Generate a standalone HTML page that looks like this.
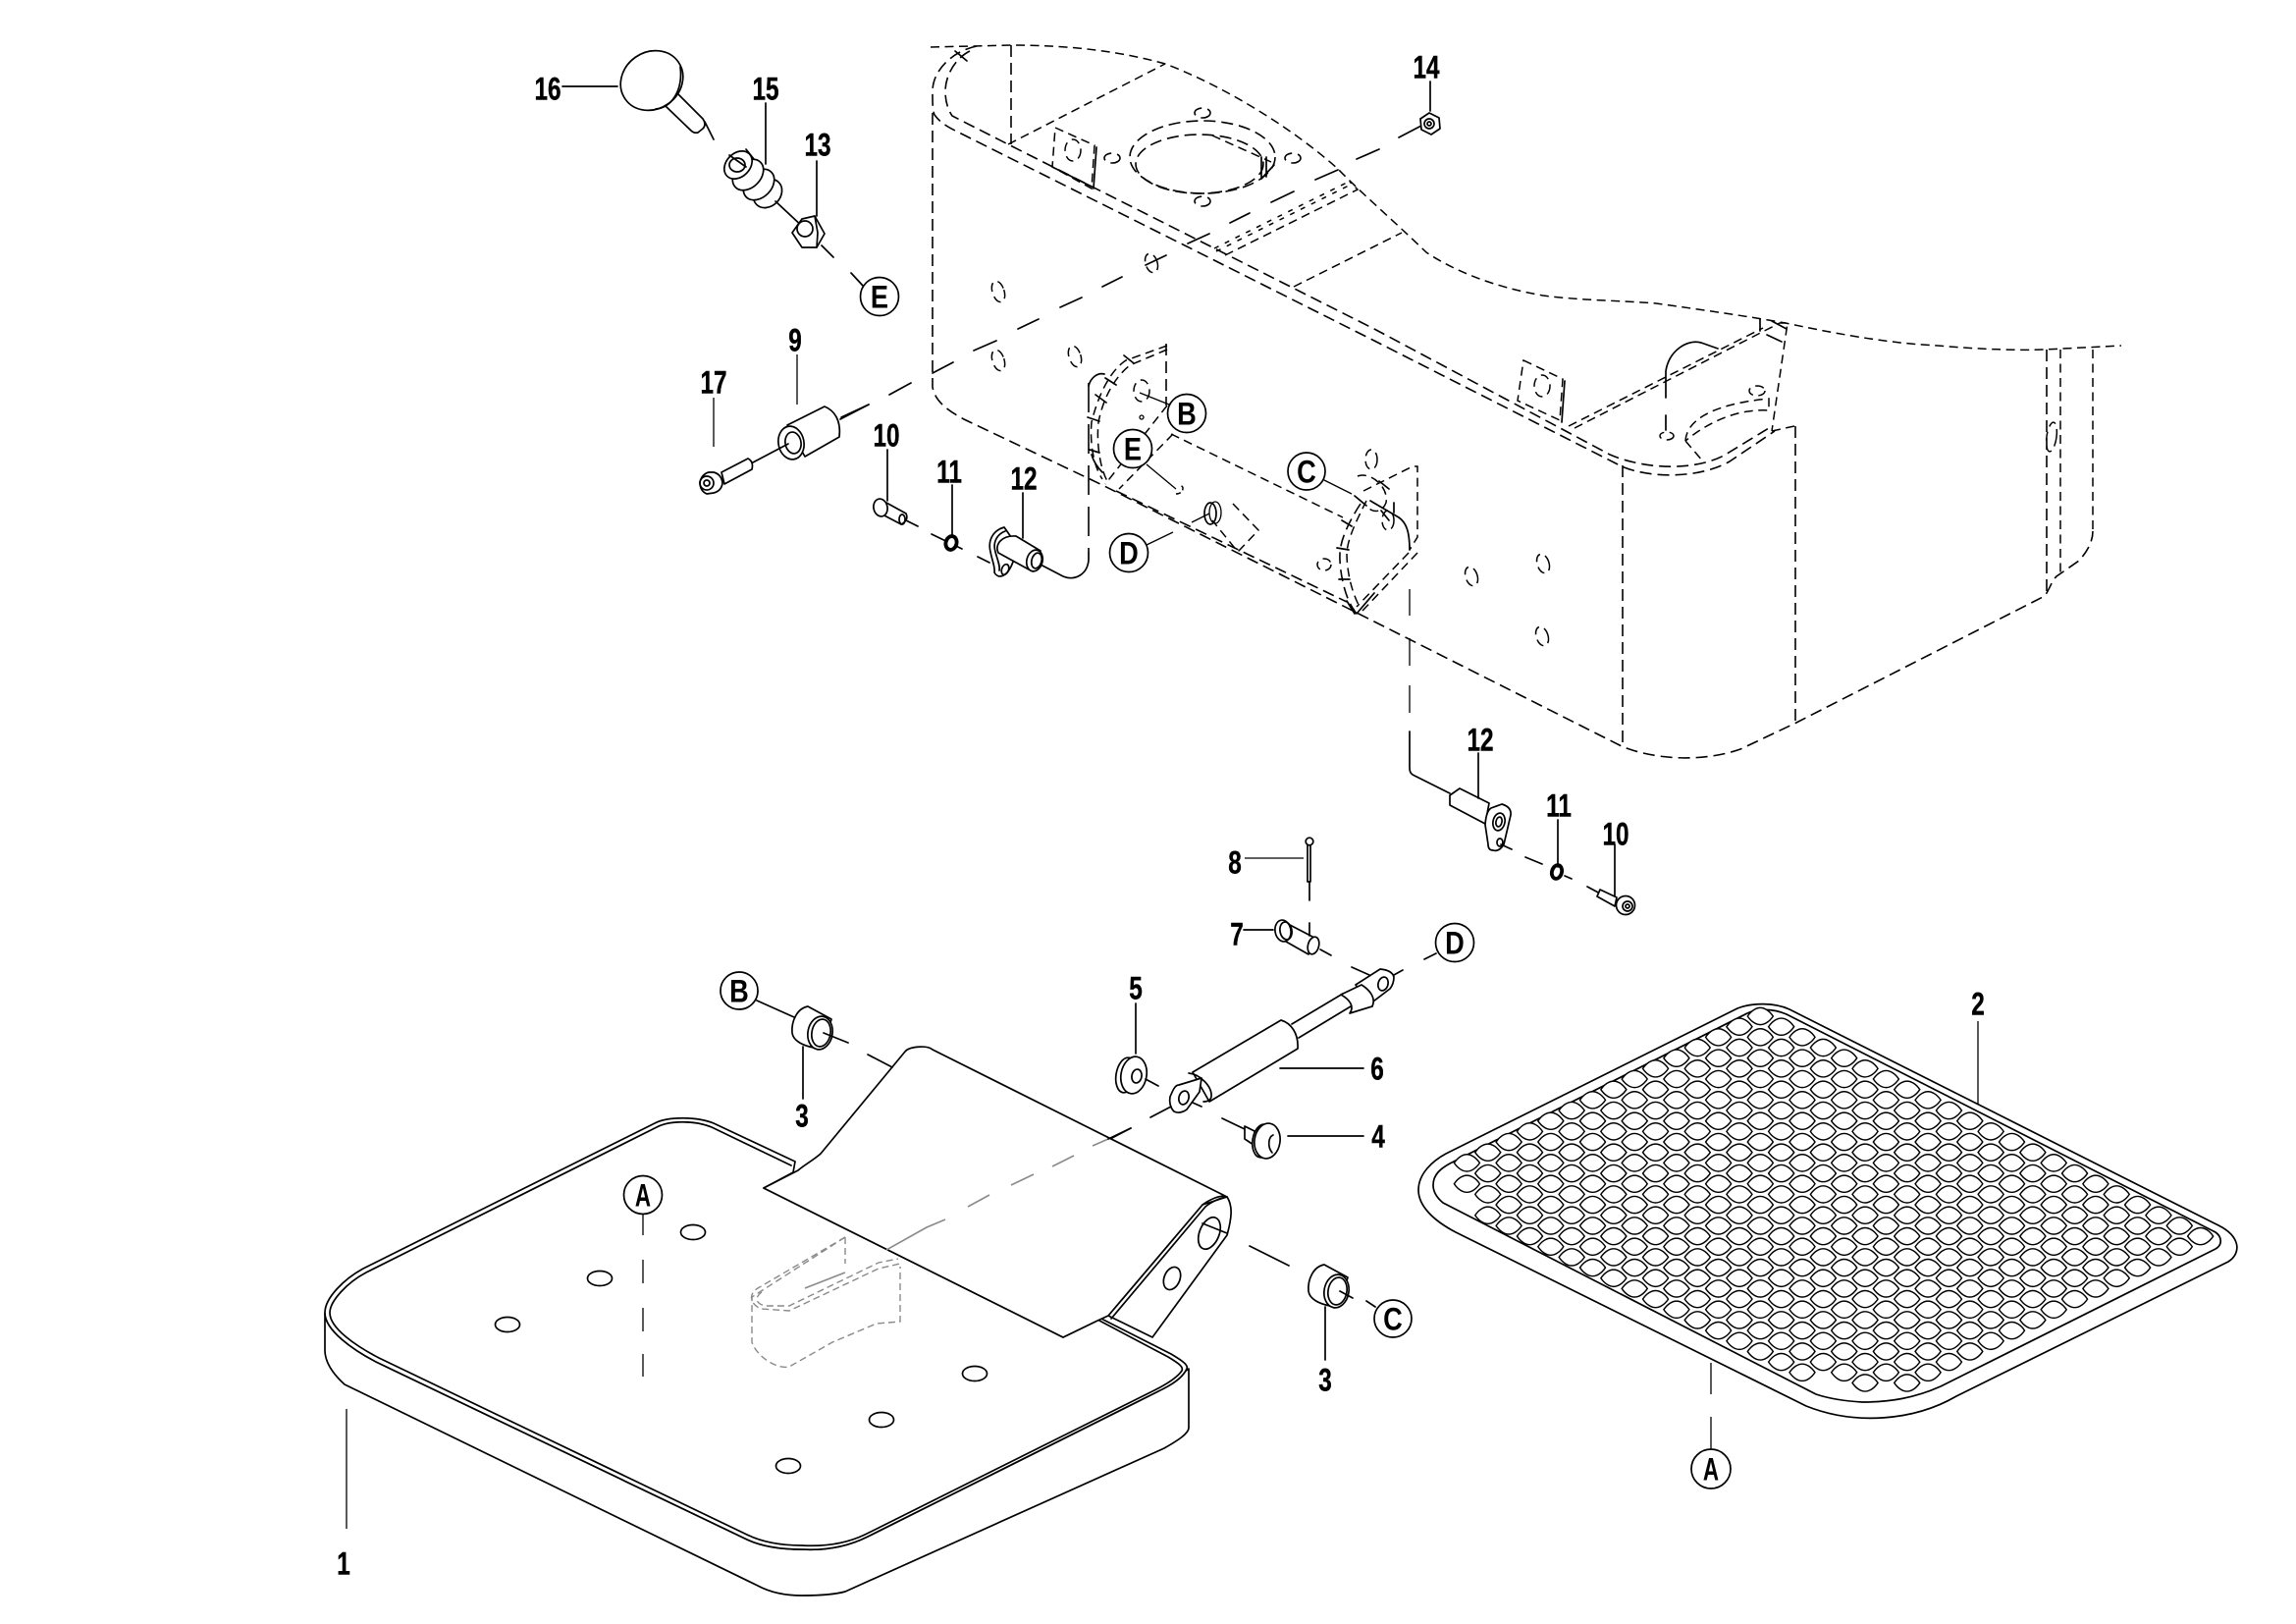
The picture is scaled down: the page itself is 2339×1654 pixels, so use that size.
<!DOCTYPE html>
<html lang="en">
<head>
<meta charset="utf-8">
<title>Parts diagram</title>
<style>
html,body{margin:0;padding:0;background:#fff}
svg{display:block}
.s{fill:none;stroke:#000;stroke-width:1.7;stroke-linecap:round;stroke-linejoin:round}
.w{fill:#fff;stroke:#000;stroke-width:1.7;stroke-linejoin:round}
.t{fill:none;stroke:#000;stroke-width:1.3}
.d{fill:none;stroke:#000;stroke-width:1.5;stroke-dasharray:9 5.5}
.dd{fill:none;stroke:#000;stroke-width:1.6;stroke-dasharray:12 6}
.k{fill:none;stroke:#000;stroke-width:1.5;stroke-dasharray:5 7}
.g{fill:none;stroke:#8a8a8a;stroke-width:1.4;stroke-dasharray:7 4}
.gl{fill:none;stroke:#8a8a8a;stroke-width:1.6}
.n{font:700 32px "Liberation Sans",sans-serif;text-anchor:middle;fill:#000;stroke:#000;stroke-width:.4}
.l{font:700 32px "Liberation Sans",sans-serif;text-anchor:middle;fill:#000}
</style>
</head>
<body>
<svg xmlns="http://www.w3.org/2000/svg" width="2339" height="1654" viewBox="0 0 2339 1654">
<defs>
<path id="h" d="M-13,0C-9,-6 -4,-8.6 0,-8.6C4,-8.6 9,-6 13,0C9,6 4,8.6 0,8.6C-4,8.6 -9,6 -13,0Z" fill="#fff" stroke="#000" stroke-width="1.45"/>
<g id="r2"><use href="#h"/><use href="#h" transform="translate(21.35,10.67)"/></g>
<g id="r4"><use href="#r2"/><use href="#r2" transform="translate(42.7,21.34)"/></g>
<g id="r8"><use href="#r4"/><use href="#r4" transform="translate(85.4,42.68)"/></g>
<g id="r16"><use href="#r8"/><use href="#r8" transform="translate(170.8,85.36)"/></g>
<g id="r20"><use href="#r16"/><use href="#r4" transform="translate(341.6,170.72)"/></g>
<g id="r22"><use href="#r20"/><use href="#r2" transform="translate(427,213.4)"/></g>
<g id="b3">
<path class="w" d="M823,1025 L847,1038 L838,1068 L829,1067 C818,1065 808,1060 807,1052 C806,1040 812,1027 823,1025 Z"/>
<ellipse class="w" cx="835.5" cy="1052" rx="12.5" ry="17" transform="rotate(10 835.5 1052)"/>
<ellipse class="s" cx="836.5" cy="1052" rx="9.5" ry="14" transform="rotate(10 836.5 1052)"/>
</g>
</defs>

<!-- TANK -->
<g>
<path class="d" d="M948,48 L1030,46 C1090,46 1140,52 1187,65 C1240,85 1310,125 1363,172 C1385,195 1420,225 1453,257 C1480,275 1520,292 1572,301 C1610,306 1650,306 1687,309 C1730,315 1780,322 1819,329 C1880,342 1930,350 1974,352 C2020,356 2060,357 2083,356 L2161,352"/>
<path class="dd" d="M950,115 V394 C952,408 965,418 982,427 L1123,494 L1380,623 L1652,760 C1680,772 1730,778 1773,763 L1828,737 L2083,607 C2088,600 2090,592 2095,587 L2118,571 C2126,562 2132,552 2132,541"/>
<path class="dd" d="M2085,356 V607 M1653,474 V760 M1829,434 V737"/>
<path class="d" d="M2099,356 V585 M2132,356 V541"/>
<path class="dd" d="M988,52 C972,60 963,78 963,93 C963,104 966,112 970,118 L1027,147 L1400,335 L1640,463 C1675,478 1725,480 1756,464 L1802,436"/>
<path class="dd" d="M995,47 C970,52 950,72 950,93 C950,105 950,112 952,117 C958,125 965,129 973,133 L1207,250 L1400,347 L1652,475 C1680,487 1730,488 1762,470 L1808,439"/>
<path class="s" d="M973,52 L985,62"/>
<path class="dd" d="M1030,46 V147"/>
<path class="d" d="M1027,147 L1187,65 M1318,292 L1428,237"/>
<path class="k" d="M1237,253 L1372,186 M1239,256 L1374,189"/>
<path class="d" d="M1248,260 L1383,193 L1375,185"/>
<ellipse class="dd" cx="1225" cy="160" rx="74" ry="37"/>
<ellipse class="dd" cx="1222" cy="167" rx="65" ry="30"/>
<path class="s" d="M1285,160 V182 L1298,168 M1290,160 V180"/>
<path class="d" d="M1235,138 L1295,165"/>
<ellipse class="dd" cx="1225" cy="115" rx="8" ry="5"/>
<ellipse class="dd" cx="1225" cy="205" rx="8" ry="5"/>
<ellipse class="dd" cx="1133" cy="161" rx="8" ry="5"/>
<ellipse class="dd" cx="1317" cy="161" rx="8" ry="5"/>
<path class="d" d="M1075,130 L1115,148 L1112,192 L1072,170 Z"/>
<path class="s" d="M1117,150 L1114,192 M1072,170 L1112,190"/>
<ellipse class="d" cx="1093" cy="153" rx="8" ry="11"/>
<ellipse class="d" cx="1017" cy="297" rx="6" ry="11" transform="rotate(-18 1017 297)"/>
<ellipse class="d" cx="1173" cy="268" rx="6" ry="10" transform="rotate(-18 1173 268)"/>
<ellipse class="d" cx="1017" cy="367" rx="6" ry="11" transform="rotate(-18 1017 367)"/>
<ellipse class="d" cx="1095" cy="363" rx="6" ry="11" transform="rotate(-18 1095 363)"/>
<ellipse class="d" cx="1349" cy="575" rx="7" ry="6"/>
<ellipse class="d" cx="1499" cy="587" rx="6" ry="10" transform="rotate(-18 1499 587)"/>
<ellipse class="d" cx="1572" cy="574" rx="6" ry="10" transform="rotate(-18 1572 574)"/>
<ellipse class="d" cx="1571" cy="648" rx="6" ry="10" transform="rotate(-18 1571 648)"/>
<ellipse class="d" cx="2090" cy="445" rx="5" ry="15" transform="rotate(8 2090 445)"/>
<path class="d" d="M1552,367 L1592,386 L1589,428 L1546,408 Z"/>
<path class="s" d="M1594,388 L1591,430"/>
<ellipse class="d" cx="1571" cy="393" rx="8" ry="11"/>
<path class="d" d="M1598,434 L1796,334 M1604,436 L1813,329 L1821,329 L1805,439"/>
<path class="s" d="M1793,325 V337 M1805,327 L1820,335 M1800,341 L1815,348"/>
<path class="s" d="M1697,405 V378 C1700,358 1718,345 1733,349 L1750,355 M1697,423 V438"/>
<ellipse class="d" cx="1698" cy="444" rx="7" ry="4"/>
<path class="d" d="M1717,449 C1718,430 1740,412 1802,406 V418 C1770,416 1740,430 1717,449 M1717,449 L1735,470"/>
<path class="d" d="M1805,439 L1828,434"/>
<ellipse class="d" cx="1790" cy="398" rx="8" ry="5"/>
<!-- left bracket -->
<path class="d" d="M1189,352 L1147,367 C1130,378 1118,405 1112,430 C1110,450 1114,475 1123,488"/>
<path class="d" d="M1189,356 L1151,372 C1135,385 1124,405 1119,430 C1117,450 1120,475 1128,490"/>
<path class="dd" d="M1188,350 V413"/>
<path class="s" d="M1109,393 C1111,385 1118,379 1125,381 M1112,463 C1114,470 1118,476 1123,481"/>
<path class="s" d="M1145,362 L1155,370 M1126,385 L1137,392 M1116,402 L1127,410 M1108,425 L1120,429 M1110,458 L1120,461"/>
<path class="d" d="M1189,413 L1126,493 M1195,442 L1140,498"/>
<ellipse class="d" cx="1163" cy="398" rx="8" ry="11"/>
<circle cx="1163" cy="425" r="2" class="t"/>
<path class="t" style="stroke-width:1.6;stroke-dasharray:30 12" d="M1109,390 V563"/>
<path class="dd" d="M1137,500 L1372,613"/>
<path class="d" d="M1193,442 L1368,527"/>
<path class="t" d="M1161,400 L1191,412 M1168,473 L1198,498 M1347,488 L1377,503 M1168,555 L1195,542 M1214,532 L1232,523"/>
<path class="d" style="stroke-dasharray:5 3" d="M1198,503 C1206,503 1207,494 1202,495"/>
<!-- D bracket -->
<path class="d" d="M1256,513 L1282,540 L1261,562 L1235,530"/>
<ellipse class="s" cx="1233" cy="523" rx="6" ry="11"/>
<ellipse class="t" cx="1238" cy="522" rx="6" ry="11"/>
<!-- right bracket -->
<path class="d" d="M1389,500 L1439,475 L1444,475 V547 L1436,560"/>
<path class="dd" d="M1386,513 C1375,530 1366,548 1365,563 C1364,580 1370,610 1380,622"/>
<path class="d" d="M1392,510 C1382,530 1373,548 1372,563 C1372,580 1376,600 1384,616"/>
<path class="s" d="M1380,505 L1392,515 M1367,530 L1377,536 M1362,558 L1374,560 M1364,590 L1375,590"/>
<ellipse class="d" cx="1397" cy="468" rx="6" ry="10"/>
<path class="d" d="M1383,485 C1395,480 1415,495 1412,512 C1408,522 1400,522 1395,518"/>
<path class="s" d="M1396,510 L1425,527 C1432,532 1436,540 1436,560"/>
<path class="d" d="M1435,563 L1382,618 M1444,563 L1388,622"/>
<path class="s" d="M1378,620 L1382,625 L1400,604 M1372,612 L1380,625 M1405,490 L1415,498 M1420,512 V522 M1407,520 L1415,530"/>
<ellipse class="d" cx="1414" cy="530" rx="6" ry="10"/>
<!-- center line through tank -->
<path class="s" d="M1448,128 L1425,140 M1405,152 L1382,162 M1363,173 L1340,183 M1318,195 L1295,206 M1273,217 L1253,227 M1232,238 L1210,248 M1188,260 L1167,270 M1143,282 L1123,292 M1102,303 L1080,313 M1058,325 L1037,335 M1015,347 L992,357 M971,369 L950,380 M928,390 L906,402 M885,412 L856,427"/>
<path class="s" d="M1060,575 L1083,587 C1095,592 1108,585 1109,570 V563"/>
<path class="t" d="M1436,600 V627"/>
<path class="t" style="stroke-dasharray:28 20" d="M1436,650 V745"/>
<path class="s" d="M1436,745 V782 C1436,788 1439,789 1441,790 L1477,808"/>
</g>

<!-- KNOB / SPRING / NUTS -->
<g>
<path class="s" d="M690,95 L716,121 Q720,127 716,131 L711,135 Q707,136 704,133 L678,108 M718,124 L727,142"/>
<ellipse class="w" cx="664" cy="82" rx="33" ry="29" transform="rotate(-35 664 82)"/>
<path class="s" d="M668,111 C684,110 696,92 693,68"/>
<path class="s" d="M573,88 H629"/>
<ellipse class="w" cx="782" cy="197" rx="16" ry="13" transform="rotate(-45 782 197)"/>
<ellipse class="w" cx="773" cy="188" rx="18" ry="13" transform="rotate(-45 773 188)"/>
<ellipse class="w" cx="762" cy="178" rx="18" ry="13" transform="rotate(-45 762 178)"/>
<ellipse class="w" cx="752" cy="168" rx="16" ry="12" transform="rotate(-45 752 168)"/>
<ellipse class="s" cx="751" cy="168" rx="8" ry="7"/>
<path class="s" d="M743,158 L760,170 M760,152 L768,162 M780,105 V167 M790,205 L820,233"/>
<path class="w" d="M807,237 L817,223 L830,220 L840,238 L832,252 L817,252 Z"/>
<path class="s" d="M830,220 L833,237 L832,252"/>
<circle class="s" cx="820" cy="233" r="8"/>
<path class="s" d="M832,164 V220 M837,250 L849,262 M867,278 L880,292"/>
<path class="w" d="M1447,121 L1456,115 L1466,120 L1467,131 L1458,137 L1448,132 Z"/>
<circle class="s" cx="1456" cy="126" r="5"/>
<circle class="s" cx="1456" cy="126" r="2"/>
<path class="s" d="M1457,83 V113"/>
</g>

<!-- 9 / 17 -->
<g>
<path class="w" d="M802,433 L840,414 C850,418 857,428 855,445 L820,465 Z"/>
<ellipse class="w" cx="806" cy="451" rx="13" ry="17" transform="rotate(-10 806 451)"/>
<ellipse class="s" cx="808" cy="451" rx="8" ry="11" transform="rotate(-10 808 451)"/>
<path class="s" d="M857,425 L885,412"/>
<path class="t" d="M812,361 V412 M727,405 V455"/>
<path class="s" d="M767,471 L803,452"/>
<path class="w" d="M735,481 L762,467 Q768,470 766,478 L738,493 Z"/>
<path class="w" d="M727,481 Q735,483 736,492 Q735,500 727,502 L720,503 Q713,500 713,491 Q715,483 722,481 Z"/>
<circle class="s" cx="720" cy="492" r="7"/>
<circle class="s" cx="720" cy="492" r="3"/>
</g>

<!-- 10/11/12 upper -->
<g>
<path class="w" d="M903,512 L923,523 Q926,530 918,534 L899,524 Z"/>
<ellipse class="w" cx="897" cy="517" rx="7" ry="9" transform="rotate(-12 897 517)"/>
<ellipse class="s" cx="919" cy="529" rx="3" ry="5"/>
<path class="s" d="M904,458 V510 M923,530 L935,536 M949,544 L980,559 M996,567 L1008,573"/>
<ellipse cx="969" cy="553" rx="5.5" ry="7" fill="#fff" stroke="#000" stroke-width="3.8" transform="rotate(15 969 553)"/>
<path class="s" d="M970,494 V545"/>
<path class="w" d="M1023,537 C1012,540 1006,550 1009,562 C1011,572 1014,578 1013,583 C1016,589 1024,589 1030,577 L1033,570 L1030,547 Z"/>
<path class="s" d="M1024,541 C1016,544 1011,552 1014,562 C1016,570 1019,576 1018,581"/>
<ellipse class="s" cx="1024" cy="580" rx="3.5" ry="5.5" transform="rotate(20 1024 580)"/>
<path class="w" d="M1035,546 L1060,561 L1048,580 L1017,563 C1013,555 1020,545 1035,546 Z"/>
<ellipse class="w" cx="1054" cy="571" rx="8" ry="11" transform="rotate(15 1054 571)"/>
<ellipse class="s" cx="1056" cy="571" rx="5" ry="8" transform="rotate(15 1056 571)"/>
<path class="s" d="M1042,502 V548"/>
</g>

<!-- 12/11/10 lower right -->
<g>
<path class="w" d="M1487,803 L1517,818 L1513,839 L1477,820 V810 Z"/>
<path class="w" d="M1530,819 Q1540,822 1539,830 L1532,860 Q1527,868 1521,866 Q1516,866 1516,860 L1513,840 Q1514,826 1519,823 Z"/>
<ellipse class="s" cx="1527" cy="837" rx="6" ry="9" transform="rotate(12 1527 837)"/>
<ellipse class="s" cx="1527" cy="837" rx="3" ry="5" transform="rotate(12 1527 837)"/>
<ellipse class="s" cx="1528" cy="858" rx="3" ry="4"/>
<path class="s" d="M1506,767 V813 M1529,860 L1540,865 M1554,873 L1571,880 M1594,892 L1601,895 M1617,903 L1630,910"/>
<ellipse cx="1586" cy="888" rx="5" ry="7" fill="#fff" stroke="#000" stroke-width="3.8" transform="rotate(15 1586 888)"/>
<path class="s" d="M1587,835 V883"/>
<path class="w" d="M1630,906 L1647,914 L1645,923 L1627,913 Z"/>
<circle class="w" cx="1656" cy="922" r="9.5"/>
<circle class="s" cx="1658" cy="923" r="5"/>
<circle class="s" cx="1658" cy="923" r="2"/>
<path class="s" d="M1645,860 V912"/>
</g>

<!-- 7 / 8 -->
<g>
<circle class="s" cx="1334" cy="857" r="3.8"/>
<path class="s" d="M1332,861 V898 H1335 V861 M1334,898 V917"/>
<path class="t" d="M1268,874 H1328"/>
<path class="s" d="M1267,947 H1297"/>
<path class="w" d="M1314,942 L1339,955 L1333,972 L1303,955 Z"/>
<ellipse class="w" cx="1307" cy="948" rx="8" ry="11" transform="rotate(-10 1307 948)"/>
<ellipse class="s" cx="1310" cy="948" rx="6" ry="9" transform="rotate(-10 1310 948)"/>
<ellipse class="w" cx="1338" cy="963" rx="5.5" ry="9" transform="rotate(15 1338 963)"/>
<path class="s" d="M1334,940 V953 M1345,967 L1356,973"/>
</g>

<!-- 6 / 5 / 4 -->
<g>
<path class="s" d="M1316,1043 L1368,1012 M1323,1057 L1376,1025"/>
<path class="w" d="M1215,1092 L1305,1039 C1315,1042 1323,1052 1322,1068 L1232,1122 Z"/>
<path class="s" d="M1211,1093 C1222,1094 1235,1106 1234,1117 Q1233,1122 1226,1122"/>
<path class="w" d="M1381,1003 L1406,987 Q1418,988 1420,995 Q1420,1002 1416,1007 L1395,1023 Z"/>
<path class="w" d="M1366,1013 L1387,1003 C1395,1008 1402,1016 1398,1025 L1375,1032 C1380,1025 1375,1018 1366,1013 Z"/>
<ellipse class="s" cx="1409" cy="1002" rx="5" ry="7" transform="rotate(15 1409 1002)"/>
<path class="s" d="M1377,985 L1395,993 M1420,993 L1429,988 M1451,977 L1463,971"/>
<path class="w" d="M1192,1117 C1195,1110 1197,1105 1201,1105 L1224,1098 L1222,1112 L1209,1130 C1205,1133 1200,1134 1196,1132 C1192,1128 1191,1122 1192,1117 Z"/>
<ellipse class="s" cx="1206" cy="1118" rx="5" ry="7" transform="rotate(15 1206 1118)"/>
<path class="s" d="M1172,1138 L1193,1127 M1215,1123 L1224,1127 M1131,1160 L1152,1149 M1304,1088 H1389 M1312,1157 H1389"/>
<ellipse class="w" cx="1147" cy="1095" rx="10" ry="18" transform="rotate(10 1147 1095)"/>
<ellipse class="w" cx="1155" cy="1095" rx="13" ry="19" transform="rotate(10 1155 1095)"/>
<ellipse class="s" cx="1158" cy="1096" rx="5" ry="7" transform="rotate(10 1158 1096)"/>
<path class="s" d="M1157,1022 V1073 M1167,1099 L1180,1106 M1245,1139 L1268,1150"/>
<path class="w" d="M1268,1147 L1278,1152 L1280,1168 L1268,1160 Z"/>
<ellipse class="w" cx="1286" cy="1162" rx="10" ry="17" transform="rotate(8 1286 1162)"/>
<ellipse class="w" cx="1291" cy="1162" rx="13" ry="18" transform="rotate(8 1291 1162)"/>
<path class="s" d="M1297,1156 C1292,1158 1291,1168 1296,1174"/>
</g>

<!-- FOOT PLATE -->
<g>
<path class="w" d="M1250,1219 C1256,1228 1255,1240 1250,1258 L1174,1362 L1129,1340 L1225,1227 Z"/>
<ellipse class="s" cx="1232" cy="1256" rx="10" ry="17" transform="rotate(22 1232 1256)"/>
<ellipse class="s" cx="1194" cy="1302" rx="8" ry="12" transform="rotate(22 1194 1302)"/>
<path class="s" d="M1225,1246 L1250,1256"/>
<path class="w" d="M331,1337 V1375 C331,1388 340,1400 351,1410 L772,1615 C785,1622 800,1625 817,1625 C835,1625 850,1624 861,1621 L1186,1475 C1200,1467 1211,1460 1211,1454 V1394 L1180,1417 L884,1565 C860,1577 835,1579 817,1578 C795,1578 775,1575 759,1567 L383,1387 C360,1375 331,1355 331,1337 Z"/>
<path class="w" d="M331,1337 C331,1322 350,1303 370,1292 L667,1144 C680,1137 710,1137 727,1144 L810,1183 L808,1194 L778,1210 L1083,1362 L1116,1346 L1116,1340 L1193,1379 C1203,1385 1211,1390 1209,1394 C1205,1403 1195,1410 1180,1417 L884,1565 C860,1577 835,1579 817,1578 C795,1578 775,1575 759,1567 L383,1387 C360,1375 331,1355 331,1337 Z"/>
<path class="s" d="M336,1337 C336,1325 354,1306 373,1296 L669,1148 C682,1141 708,1141 725,1148 L806,1187 M1120,1345 L1190,1382 C1200,1388 1206,1392 1204,1396 C1200,1402 1190,1409 1176,1416 L881,1563 C858,1574 835,1575 817,1574 C796,1574 777,1571 761,1563 L386,1383 C363,1371 336,1353 336,1337"/>
<path class="w" d="M778,1210 L813,1192 C820,1186 828,1182 836,1175 L922,1071 C926,1066 944,1064 950,1069 L1250,1219 C1244,1216 1232,1222 1225,1227 L1129,1340 L1116,1346 L1083,1362 Z"/>
<path class="s" d="M1132,1343 L1228,1229 C1234,1224 1243,1220 1250,1219"/>
<path class="g" d="M861,1260 L772,1312 C762,1318 764,1328 775,1333 L804,1335 L895,1292 L917,1287"/>
<path class="g" d="M861,1260 L766,1321 V1367 C770,1380 790,1395 804,1392 L848,1367 L893,1348 L917,1346 V1290"/>
<path class="g" d="M861,1260 V1287 M776,1316 C768,1322 770,1328 780,1330 L804,1330 L895,1286 L915,1282"/>
<path class="gl" d="M1129,1160 L1113,1167 M1094,1177 L1072,1188 M1053,1196 L1030,1207 M1008,1217 L986,1229 M963,1242 L944,1250 M944,1250 L903,1273 M861,1296 L820,1312"/>
<ellipse class="s" cx="706" cy="1255" rx="12.5" ry="7.5"/>
<ellipse class="s" cx="611" cy="1302" rx="12.5" ry="7.5"/>
<ellipse class="s" cx="517" cy="1349" rx="12.5" ry="7.5"/>
<ellipse class="s" cx="993" cy="1399" rx="12.5" ry="7.5"/>
<ellipse class="s" cx="898" cy="1446" rx="12.5" ry="7.5"/>
<ellipse class="s" cx="803" cy="1493" rx="12.5" ry="7.5"/>
<path class="t" d="M655,1235 V1258 M655,1283 V1307 M655,1332 V1356 M655,1379 V1402 M353,1435 V1557"/>
<path class="s" d="M1152,1149 L1129,1160"/>
</g>

<!-- BUSHINGS 3 -->
<g>
<use href="#b3"/>
<use href="#b3" transform="translate(526,263)"/>
<path class="s" d="M771,1019 L809,1036 M839,1052 L864,1062 M884,1074 L909,1087 M818,1066 V1119"/>
<path class="s" d="M1273,1269 L1313,1289 M1365,1315 L1378,1322 M1392,1325 L1401,1331 M1350,1331 V1385"/>
</g>

<!-- MESH -->
<g>
<path class="w" d="M1445,1212 C1445,1195 1460,1182 1473,1175 L1770,1027 C1785,1021 1808,1021 1823,1028 L2260,1248 C2282,1259 2284,1276 2270,1285 L1993,1422 C1950,1447 1890,1452 1840,1432 L1483,1255 C1460,1243 1445,1228 1445,1212 Z"/>
<path class="s" d="M1460,1207 C1460,1196 1468,1190 1477,1185 L1780,1032 C1790,1027 1806,1027 1820,1033 L2257,1255 C2264,1260 2264,1268 2257,1272 L1977,1412 C1950,1424 1925,1428 1897,1428 C1880,1427 1865,1425 1850,1420 L1470,1225 C1464,1220 1460,1214 1460,1207 Z"/>
<use href="#r22" transform="translate(1793.3,1035)"/>
<use href="#r22" transform="translate(1771.95,1045.67)"/>
<use href="#r22" transform="translate(1750.6,1056.34)"/>
<use href="#r22" transform="translate(1729.25,1067.01)"/>
<use href="#r22" transform="translate(1707.9,1077.68)"/>
<use href="#r22" transform="translate(1686.55,1088.35)"/>
<use href="#r22" transform="translate(1665.2,1099.02)"/>
<use href="#r22" transform="translate(1643.85,1109.69)"/>
<use href="#r22" transform="translate(1622.5,1120.36)"/>
<use href="#r22" transform="translate(1601.15,1131.03)"/>
<use href="#r22" transform="translate(1579.8,1141.7)"/>
<use href="#r22" transform="translate(1558.45,1152.37)"/>
<use href="#r22" transform="translate(1537.1,1163.04)"/>
<use href="#r22" transform="translate(1515.75,1173.71)"/>
<use href="#r22" transform="translate(1494.4,1184.38)"/>
<use href="#r20" transform="translate(1494.4,1205.72)"/>
<use href="#r16" transform="translate(1515.75,1237.73)"/>
<path class="t" d="M1743,1388 V1420 M1743,1443 V1476 M2015,1040 V1124"/>
</g>

<!-- CALLOUT CIRCLES -->
<g>
<circle class="s" cx="896" cy="302" r="19.5" style="fill:#fff"/>
<circle class="s" cx="1209" cy="421" r="19.5" style="fill:#fff"/>
<circle class="s" cx="1154" cy="457" r="19.5" style="fill:#fff"/>
<circle class="s" cx="1331" cy="480" r="19" style="fill:#fff"/>
<circle class="s" cx="1150" cy="563" r="19.5" style="fill:#fff"/>
<circle class="s" cx="1482" cy="960" r="19.5" style="fill:#fff"/>
<circle class="s" cx="753" cy="1009" r="19" style="fill:#fff"/>
<circle class="s" cx="655" cy="1217" r="19.5" style="fill:#fff"/>
<circle class="s" cx="1419" cy="1343" r="19" style="fill:#fff"/>
<circle class="s" cx="1743" cy="1496" r="20" style="fill:#fff"/>
<text class="l" transform="translate(896,313.5) scale(.85,1)">E</text>
<text class="l" transform="translate(1209,432.5) scale(.85,1)">B</text>
<text class="l" transform="translate(1154,468.5) scale(.85,1)">E</text>
<text class="l" transform="translate(1331,491.5) scale(.85,1)">C</text>
<text class="l" transform="translate(1150,574.5) scale(.85,1)">D</text>
<text class="l" transform="translate(1482,971.5) scale(.85,1)">D</text>
<text class="l" transform="translate(753,1020.5) scale(.85,1)">B</text>
<text class="l" transform="translate(655,1228.5) scale(.7,1)">A</text>
<text class="l" transform="translate(1419,1354.5) scale(.85,1)">C</text>
<text class="l" transform="translate(1743,1507.5) scale(.7,1)">A</text>
</g>

<!-- NUMBERS -->
<g>
<text class="n" transform="translate(558,101.5) scale(.76,1)">16</text>
<text class="n" transform="translate(780,101.5) scale(.76,1)">15</text>
<text class="n" transform="translate(833,158.5) scale(.76,1)">13</text>
<text class="n" transform="translate(1453,79.5) scale(.76,1)">14</text>
<text class="n" transform="translate(810,357.5) scale(.76,1)">9</text>
<text class="n" transform="translate(727,400.5) scale(.76,1)">17</text>
<text class="n" transform="translate(903,454.5) scale(.76,1)">10</text>
<text class="n" transform="translate(967,491.5) scale(.76,1)">11</text>
<text class="n" transform="translate(1043,498.5) scale(.76,1)">12</text>
<text class="n" transform="translate(1508,764.5) scale(.76,1)">12</text>
<text class="n" transform="translate(1588,831.5) scale(.76,1)">11</text>
<text class="n" transform="translate(1646,860.5) scale(.76,1)">10</text>
<text class="n" transform="translate(1258,889.5) scale(.76,1)">8</text>
<text class="n" transform="translate(1260,962.5) scale(.76,1)">7</text>
<text class="n" transform="translate(1157,1017.5) scale(.76,1)">5</text>
<text class="n" transform="translate(1403,1099.5) scale(.76,1)">6</text>
<text class="n" transform="translate(1404,1168.5) scale(.76,1)">4</text>
<text class="n" transform="translate(2015,1033.5) scale(.76,1)">2</text>
<text class="n" transform="translate(817,1147.5) scale(.76,1)">3</text>
<text class="n" transform="translate(1350,1416.5) scale(.76,1)">3</text>
<text class="n" transform="translate(350,1603.5) scale(.76,1)">1</text>
</g>
</svg>
</body>
</html>
